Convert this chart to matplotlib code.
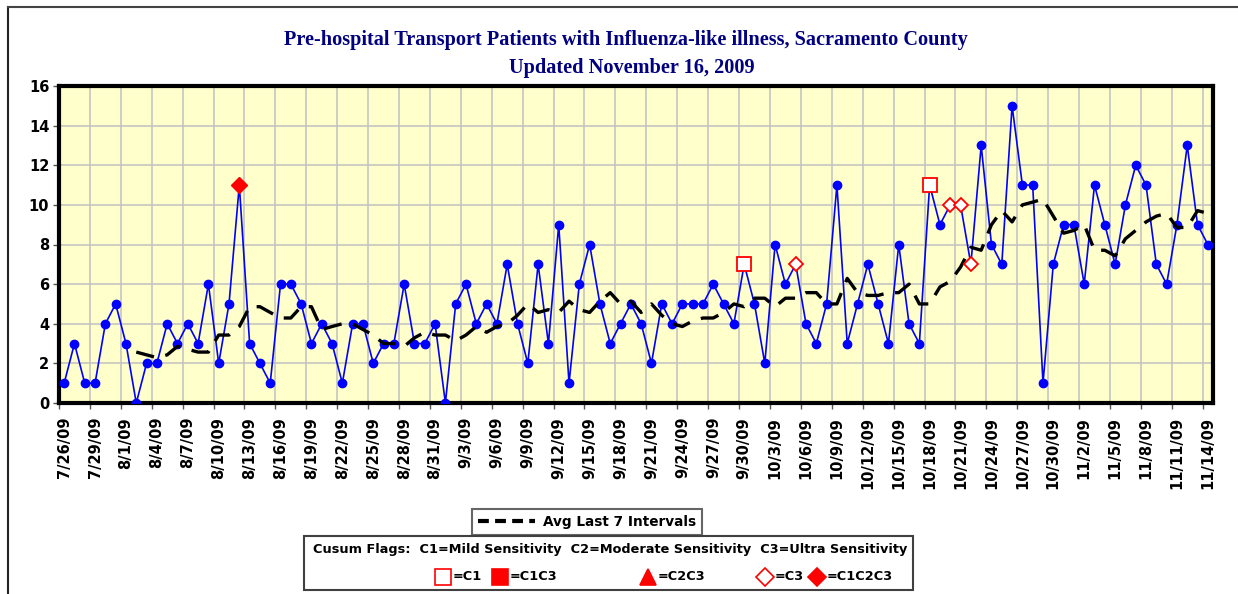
import matplotlib
matplotlib.use("Agg")
import matplotlib.pyplot as plt
from matplotlib.lines import Line2D
from matplotlib.patches import Rectangle

# daily counts 7/26/09 .. 11/14/09
counts = [1, 3, 1, 1, 4, 5, 3, 0, 2, 2,
          4, 3, 4, 3, 6, 2, 5, 11, 3, 2,
          1, 6, 6, 5, 3, 4, 3, 1, 4, 4,
          2, 3, 3, 6, 3, 3, 4, 0, 5, 6,
          4, 5, 4, 7, 4, 2, 7, 3, 9, 1,
          6, 8, 5, 3, 4, 5, 4, 2, 5, 4,
          5, 5, 5, 6, 5, 4, 7, 5, 2, 8,
          6, 7, 4, 3, 5, 11, 3, 5, 7, 5,
          3, 8, 4, 3, 11, 9, 10, 10, 7, 13,
          8, 7, 15, 11, 11, 1, 7, 9, 9, 6,
          11, 9, 7, 10, 12, 11, 7, 6, 9, 13,
          9, 8]

# avg of last 7 intervals, starts at day index 7
avg_start = 7
avg7 = [2.57, 2.43, 2.29, 2.43, 2.86, 2.71, 2.57, 2.57, 3.43, 3.43,
        3.86, 4.86, 4.86, 4.57, 4.29, 4.29, 4.86, 4.86, 3.71, 3.86,
        4.00, 4.00, 3.71, 3.43, 3.00, 3.00, 2.86, 3.29, 3.57, 3.43,
        3.43, 3.14, 3.43, 3.86, 3.57, 3.86, 4.00, 4.43, 5.00, 4.57,
        4.71, 4.57, 5.14, 4.71, 4.57, 5.14, 5.57, 5.00, 5.14, 4.57,
        5.00, 4.43, 4.00, 3.86, 4.14, 4.29, 4.29, 4.57, 5.00, 4.86,
        5.29, 5.29, 4.86, 5.29, 5.29, 5.57, 5.57, 5.00, 5.00, 6.29,
        5.57, 5.43, 5.43, 5.57, 5.57, 6.00, 5.00, 5.00, 5.86, 6.14,
        6.86, 7.86, 7.71, 9.00, 9.71, 9.14, 10.00, 10.14, 10.29, 9.43,
        8.57, 8.71, 9.00, 7.71, 7.71, 7.43, 8.29, 8.71, 9.14, 9.43,
        9.57, 8.86, 8.86, 9.71, 9.57]

# cusum flags (day index)
flag_c1 = [66, 84]
flag_c3 = [71, 86, 87, 88]
flag_c1c2c3 = [17]

tick_labels = ["7/26/09", "7/29/09", "8/1/09", "8/4/09", "8/7/09", "8/10/09",
               "8/13/09", "8/16/09", "8/19/09", "8/22/09", "8/25/09", "8/28/09",
               "8/31/09", "9/3/09", "9/6/09", "9/9/09", "9/12/09", "9/15/09",
               "9/18/09", "9/21/09", "9/24/09", "9/27/09", "9/30/09", "10/3/09",
               "10/6/09", "10/9/09", "10/12/09", "10/15/09", "10/18/09", "10/21/09",
               "10/24/09", "10/27/09", "10/30/09", "11/2/09", "11/5/09", "11/8/09",
               "11/11/09", "11/14/09"]

W, H = 1238, 594
def fx(px):
    return px / W
def fy(py):
    return 1 - py / H

plt.rcParams['font.family'] = 'DejaVu Sans'
fig = plt.figure(figsize=(W / 100, H / 100), dpi=100)

ax = fig.add_axes([fx(59), fy(403), fx(1213) - fx(59), fy(86) - fy(403)])
ax.set_facecolor('#FFFFCC')

x = list(range(len(counts)))
ax.plot(x, counts, color='#0000FF', lw=1.2, marker='o', ms=6, zorder=3)

xa = list(range(avg_start, avg_start + len(avg7)))
ax.plot(xa, avg7, color='black', lw=2.4, dashes=(5.5, 3.5), zorder=4)

ax.plot(flag_c1, [counts[i] for i in flag_c1], ls='none', marker='s', ms=10,
        mfc='white', mec='red', mew=1.3, zorder=5)
ax.plot(flag_c3, [counts[i] for i in flag_c3], ls='none', marker='D', ms=7.5,
        mfc='white', mec='red', mew=1.3, zorder=5)
ax.plot(flag_c1c2c3, [counts[i] for i in flag_c1c2c3], ls='none', marker='D', ms=8.5,
        mfc='red', mec='red', zorder=5)

ax.set_xlim(-0.5, len(counts) - 0.5)
ax.set_ylim(0, 16)
ax.set_yticks(range(0, 17, 2))
ax.set_xticks([i - 0.5 for i in range(0, len(counts), 3)])
ax.set_xticks(list(range(0, len(counts), 3)), minor=True)
ax.set_xticklabels([])
ax.set_xticklabels(tick_labels, minor=True, rotation=90, fontsize=10.5, fontweight='bold', va='top')
ax.tick_params(axis='x', which='major', length=4, width=1, color='#555555')
ax.tick_params(axis='x', which='minor', length=0, pad=10)
ax.tick_params(axis='y', length=4, width=1, color='#555555', labelsize=10.5, pad=3)
for t in ax.get_yticklabels():
    t.set_fontweight('bold')

ax.grid(True, which='major', color='#C0C0C0', lw=1.1)
ax.set_axisbelow(True)
for s in ax.spines.values():
    s.set_linewidth(3)
    s.set_color('black')

# titles
fig.text(fx(626), fy(40), "Pre-hospital Transport Patients with Influenza-like illness, Sacramento County",
         ha='center', va='center', fontsize=14.6, fontweight='bold', family='Liberation Serif', color='#000080')
fig.text(fx(632), fy(68), "Updated November 16, 2009",
         ha='center', va='center', fontsize=14.6, fontweight='bold', family='Liberation Serif', color='#000080')

# outer frame (top and left visible)
fig.add_artist(Line2D([fx(8), fx(8)], [fy(7), 0], transform=fig.transFigure, color='#222222', lw=1.5))
fig.add_artist(Line2D([fx(8), 1], [fy(7), fy(7)], transform=fig.transFigure, color='#444444', lw=1.5))

# legend 1
leg = fig.legend([Line2D([0], [0], color='black', lw=3, dashes=(2.6, 1.5))], ["Avg Last 7 Intervals"],
                 loc='center', bbox_to_anchor=(fx(587), fy(522)), frameon=True, fancybox=False,
                 prop={'weight': 'bold', 'size': 9.8}, handlelength=4.2, borderpad=0.45,
                 handletextpad=0.6, borderaxespad=0)
leg.get_frame().set_edgecolor('#404040')
leg.get_frame().set_linewidth(1.5)

# legend 2 (cusum flags)
fig.add_artist(Rectangle((fx(304), fy(590)), fx(913) - fx(304), fy(536) - fy(590),
                         transform=fig.transFigure, fill=False, edgecolor='#404040', lw=1.5))
fig.text(fx(610), fy(549), "Cusum Flags:  C1=Mild Sensitivity  C2=Moderate Sensitivity  C3=Ultra Sensitivity",
         ha='center', va='center', fontsize=9.3, fontweight='bold')
flag_keys = [(443, 's', 'white', "=C1"), (500, 's', 'red', "=C1C3"), (648, '^', 'red', "=C2C3"),
             (765, 'D', 'white', "=C3"), (817, 'D', 'red', "=C1C2C3")]
for px, mk, fc, lab in flag_keys:
    fig.add_artist(Line2D([fx(px)], [fy(577)], transform=fig.transFigure, ls='none', marker=mk,
                          ms=11 if mk != 'D' else 9, mfc=fc, mec='red', mew=1.2))
    fig.text(fx(px + 10), fy(577), lab, ha='left', va='center', fontsize=9.3, fontweight='bold')

fig.savefig('out.png', dpi=100)
